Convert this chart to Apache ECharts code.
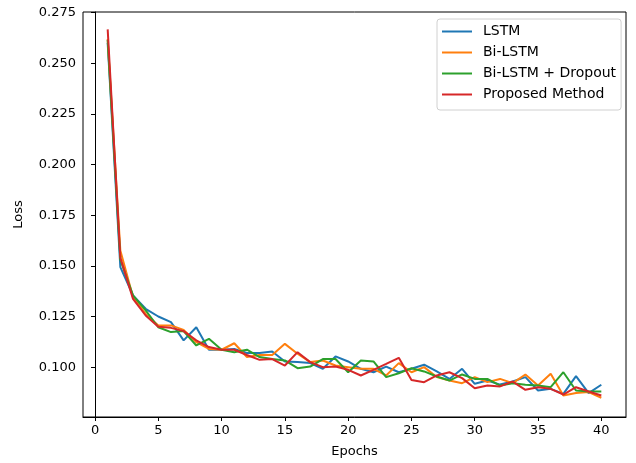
<!DOCTYPE html>
<html lang="en">
    <head>
        <meta charset="UTF-8"/>
        <script src="https://cdn.jsdelivr.net/npm/echarts@6/dist/echarts.min.js"></script>
        <title>Loss</title>
        <style>
            html, body { margin: 0; padding: 0; background: #fff; }
        </style>
    </head>
    <body>
        <div id="main" style="width: 636px;height:463px;"></div>
        <script type="text/javascript">

            // data
            var epochs = [];
            for (var e = 1; e <= 40; e++) epochs.push(e);

            var lstm = [0.2600, 0.1494, 0.1354, 0.1288, 0.1250, 0.1222, 0.1132, 0.1197, 0.1086, 0.1086,
                        0.1090, 0.1070, 0.1070, 0.1077, 0.1028, 0.1025, 0.1020, 0.0992, 0.1053, 0.1028,
                        0.0992, 0.0975, 0.1003, 0.0975, 0.0992, 0.1012, 0.0979, 0.0942, 0.0992, 0.0918,
                        0.0934, 0.0914, 0.0929, 0.0951, 0.0885, 0.0893, 0.0868, 0.0956, 0.0872, 0.0913];
            var biLstm = [0.2620, 0.1576, 0.1346, 0.1263, 0.1206, 0.1206, 0.1184, 0.1123, 0.1090, 0.1086,
                          0.1118, 0.1050, 0.1060, 0.1060, 0.1115, 0.1066, 0.1025, 0.1033, 0.1008, 0.1000,
                          0.0992, 0.0992, 0.0959, 0.1020, 0.0975, 0.1000, 0.0951, 0.0934, 0.0921, 0.0951,
                          0.0926, 0.0942, 0.0921, 0.0964, 0.0909, 0.0967, 0.0860, 0.0872, 0.0877, 0.0849];
            var biLstmDropout = [0.2615, 0.1530, 0.1354, 0.1280, 0.1197, 0.1173, 0.1178, 0.1107, 0.1140, 0.1086,
                                 0.1074, 0.1086, 0.1050, 0.1040, 0.1033, 0.0995, 0.1003, 0.1040, 0.1040, 0.0975,
                                 0.1033, 0.1028, 0.0951, 0.0970, 0.0995, 0.0979, 0.0954, 0.0934, 0.0964, 0.0942,
                                 0.0942, 0.0909, 0.0921, 0.0913, 0.0909, 0.0901, 0.0975, 0.0885, 0.0880, 0.0880];
            var proposed = [0.2667, 0.1540, 0.1337, 0.1255, 0.1200, 0.1194, 0.1178, 0.1132, 0.1099, 0.1086,
                            0.1086, 0.1060, 0.1036, 0.1040, 0.1008, 0.1074, 0.1025, 0.1000, 0.1003, 0.0987,
                            0.0959, 0.0987, 0.1016, 0.1046, 0.0937, 0.0926, 0.0959, 0.0975, 0.0946, 0.0896,
                            0.0909, 0.0905, 0.0929, 0.0888, 0.0901, 0.0893, 0.0865, 0.0901, 0.0880, 0.0860];

            var seriesNames = ['LSTM', 'Bi-LSTM', 'Bi-LSTM + Dropout', 'Proposed Method'];
            var xTicks = [0, 5, 10, 15, 20, 25, 30, 35, 40];
            var yTicks = [0.100, 0.125, 0.150, 0.175, 0.200, 0.225, 0.250, 0.275];

            var colors = ['#1f77b4', '#ff7f0e', '#2ca02c', '#d62728'];
            var font = 'DejaVu Sans';

            function pairs(vals) {
                return vals.map(function (v, i) { return [epochs[i], v]; });
            }

            var myChart = echarts.init(document.getElementById('main'));

            var allData = [lstm, biLstm, biLstmDropout, proposed];

            option = {
                backgroundColor: '#fff',
                animation: false,
                color: colors,
                grid: {
                    left: 83,
                    right: 10,
                    top: 12,
                    bottom: 46,
                    outerBoundsMode: 'none',
                    show: true,
                    borderColor: '#000',
                    borderWidth: 1
                },
                legend: {
                    orient: 'vertical',
                    left: 437,
                    top: 19,
                    icon: 'rect',
                    itemWidth: 30,
                    itemHeight: 2,
                    itemGap: 6,
                    padding: [5, 5, 8, 5],
                    backgroundColor: '#fff',
                    borderColor: '#d0d0d0',
                    borderWidth: 1,
                    borderRadius: 3,
                    textStyle: {
                        fontFamily: font,
                        fontSize: 14,
                        color: '#000',
                        lineHeight: 15,
                        padding: [0, 0, 0, 6]
                    },
                    data: seriesNames
                },
                xAxis: {
                    type: 'value',
                    min: -0.95,
                    max: 41.95,
                    name: 'Epochs',
                    nameLocation: 'middle',
                    nameGap: 28,
                    nameTextStyle: { fontFamily: font, fontSize: 13, color: '#000' },
                    axisLine: { show: true, lineStyle: { color: '#000', width: 1 } },
                    axisTick: { show: true, length: 4, lineStyle: { color: '#000' }, customValues: xTicks },
                    axisLabel: {
                        fontFamily: font, fontSize: 13, color: '#000', margin: 7,
                        customValues: xTicks,
                        formatter: function (v) { return String(v); }
                    },
                    splitLine: { show: false }
                },
                yAxis: {
                    type: 'value',
                    min: 0.0754,
                    max: 0.2753,
                    name: 'Loss',
                    nameLocation: 'middle',
                    nameGap: 58,
                    nameTextStyle: { fontFamily: font, fontSize: 13, color: '#000' },
                    axisLine: { show: true, lineStyle: { color: '#000', width: 1 } },
                    axisTick: { show: true, length: 4, lineStyle: { color: '#000' }, customValues: yTicks },
                    axisLabel: {
                        fontFamily: font, fontSize: 13, color: '#000', margin: 7,
                        customValues: yTicks,
                        formatter: function (v) { return v.toFixed(3); }
                    },
                    splitLine: { show: false }
                },
                series: seriesNames.map(function (name, i) {
                    return {
                        name: name,
                        type: 'line',
                        data: pairs(allData[i]),
                        symbol: 'none',
                        lineStyle: { width: 2, color: colors[i] },
                        itemStyle: { color: colors[i] }
                    };
                })
            };

            myChart.setOption(option);

        </script>
    </body>
</html>
